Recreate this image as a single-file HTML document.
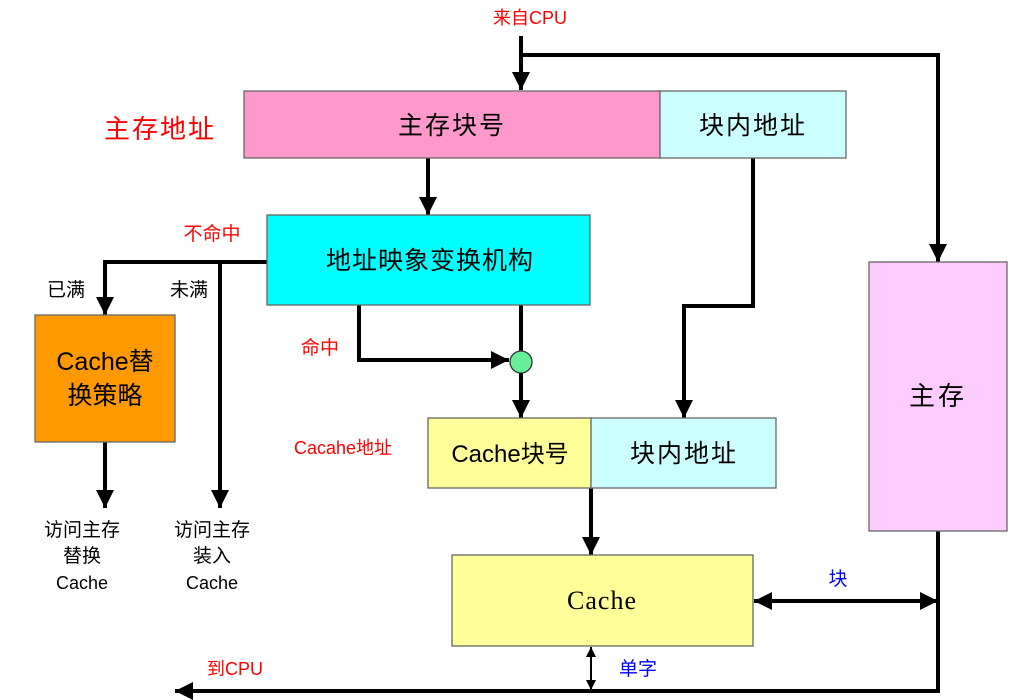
<!DOCTYPE html>
<html><head><meta charset="utf-8"><style>
html,body{margin:0;padding:0;background:#fff;}
svg{display:block;}
text{font-family:"Liberation Sans","Noto Sans CJK SC",sans-serif;}
</style></head><body>
<svg width="1016" height="700" viewBox="0 0 1016 700" xmlns="http://www.w3.org/2000/svg">
<defs>
<marker id="a" viewBox="0 0 10 10" refX="10" refY="5" markerWidth="5" markerHeight="4.5" orient="auto" markerUnits="strokeWidth"><path d="M0,0 L10,5 L0,10 z" fill="#000"/></marker>
<marker id="s" viewBox="0 0 10 10" refX="10" refY="5" markerWidth="6" markerHeight="5" orient="auto" markerUnits="strokeWidth"><path d="M0,0 L10,5 L0,10 z" fill="#000"/></marker>
</defs>
<g stroke="#000" stroke-width="4" fill="none">
<line x1="521" y1="36" x2="521" y2="90" marker-end="url(#a)"/>
<polyline points="521,55 938,55 938,262" marker-end="url(#a)"/>
<line x1="428" y1="158" x2="428" y2="215" marker-end="url(#a)"/>
<polyline points="753,158 753,306 684,306 684,418" marker-end="url(#a)"/>
<polyline points="267,262 105,262 105,315" marker-end="url(#a)"/>
<line x1="220" y1="262" x2="220" y2="508" marker-end="url(#a)"/>
<line x1="105" y1="442" x2="105" y2="508" marker-end="url(#a)"/>
<polyline points="359,305 359,360 509,360" marker-end="url(#a)"/>
<line x1="521" y1="305" x2="521" y2="352"/>
<line x1="521" y1="372" x2="521" y2="418" marker-end="url(#a)"/>
<line x1="591" y1="488" x2="591" y2="555" marker-end="url(#a)"/>
<polyline points="938,531 938,691 175,691" marker-end="url(#a)"/>
<line x1="845" y1="601" x2="754" y2="601" marker-end="url(#a)"/>
<line x1="845" y1="601" x2="938" y2="601" marker-end="url(#a)"/>
</g>
<g stroke="#000" stroke-width="2" fill="none">
<line x1="591" y1="668" x2="591" y2="647" marker-end="url(#s)"/>
<line x1="591" y1="668" x2="591" y2="690" marker-end="url(#s)"/>
</g>
<g stroke="#666" stroke-width="1.3">
<rect x="244" y="91" width="416" height="67" fill="#ff99cc"/>
<rect x="660" y="91" width="186" height="67" fill="#ccffff"/>
<rect x="267" y="215" width="323" height="90" fill="#00ffff"/>
<rect x="35" y="315" width="140" height="127" fill="#ff9900"/>
<rect x="428" y="418" width="163" height="70" fill="#ffff99"/>
<rect x="591" y="418" width="185" height="70" fill="#ccffff"/>
<rect x="452" y="555" width="301" height="91" fill="#ffff99"/>
<rect x="869" y="262" width="138" height="269" fill="#ffccff"/>
</g>
<circle cx="521" cy="362" r="11" fill="#66ee99" stroke="#333" stroke-width="1.3"/>
<g text-anchor="middle" fill="#000">
<text x="452" y="134" font-size="25" letter-spacing="2">主存块号</text>
<text x="753" y="134" font-size="25" letter-spacing="2">块内地址</text>
<text x="430" y="269" font-size="25" letter-spacing="1">地址映象变换机构</text>
<text x="105" y="370" font-size="25">Cache替</text>
<text x="105" y="404" font-size="25">换策略</text>
<text x="510" y="462" font-size="24">Cache块号</text>
<text x="684" y="462" font-size="25" letter-spacing="2">块内地址</text>
<text x="602" y="609" font-size="26" style="font-family:'Liberation Serif',serif" letter-spacing="1">Cache</text>
<text x="938" y="405" font-size="26" letter-spacing="3">主存</text>
<text x="66" y="296" font-size="19">已满</text>
<text x="189" y="296" font-size="19">未满</text>
<text x="82" y="536" font-size="19">访问主存</text>
<text x="82" y="562" font-size="19">替换</text>
<text x="82" y="589" font-size="18">Cache</text>
<text x="212" y="536" font-size="19">访问主存</text>
<text x="212" y="562" font-size="19">装入</text>
<text x="212" y="589" font-size="18">Cache</text>
</g>
<g text-anchor="middle" fill="#ff0000">
<text x="530" y="24" font-size="18">来自CPU</text>
<text x="160" y="138" font-size="26" letter-spacing="2">主存地址</text>
<text x="212" y="240" font-size="19">不命中</text>
<text x="320" y="354" font-size="19">命中</text>
<text x="343" y="454" font-size="18">Cacahe地址</text>
<text x="235" y="675" font-size="18">到CPU</text>
</g>
<g text-anchor="middle" fill="#0000ff">
<text x="838" y="585" font-size="19">块</text>
<text x="638" y="675" font-size="19">单字</text>
</g>
</svg>
</body></html>
